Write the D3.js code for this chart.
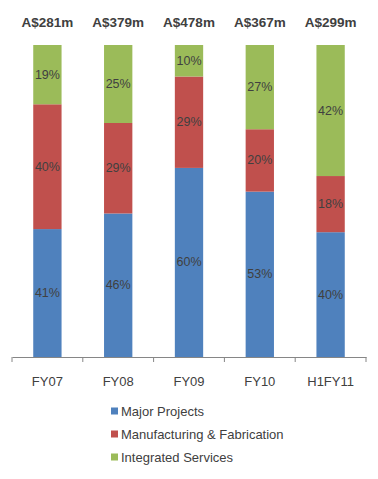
<!DOCTYPE html>
<html>
<head>
<meta charset="utf-8">
<script src="https://cdn.jsdelivr.net/npm/d3@7"></script>
<style>
  body { margin: 0; background: #fff; font-family: "Liberation Sans", Arial, sans-serif; }
</style>
</head>
<body>
<div class="chart"></div>
<script>
var svgWidth = 378;
var svgHeight = 479;

// data
var years = ["FY07", "FY08", "FY09", "FY10", "H1FY11"];
var totals = ["A$281m", "A$379m", "A$478m", "A$367m", "A$299m"];
var majorProjects = [41, 46, 60, 53, 40];
var manufacturing = [40, 29, 29, 20, 18];
var integrated = [19, 25, 10, 27, 42];
var seriesNames = ["Major Projects", "Manufacturing & Fabrication", "Integrated Services"];
var colors = ["#4f81bd", "#c0504d", "#9bbb59"];

var margin = { top: 45, right: 12, bottom: 122, left: 12 };
var width = svgWidth - margin.left - margin.right;
var height = svgHeight - margin.top - margin.bottom;

var svg = d3.select(".chart")
  .append("svg")
  .attr("width", svgWidth)
  .attr("height", svgHeight);

var chartGroup = svg.append("g")
  .attr("transform", `translate(${margin.left}, ${margin.top})`);

var data = years.map(function(y, i) {
  return { year: y, total: totals[i], mp: majorProjects[i], mf: manufacturing[i], is: integrated[i] };
});

var keys = ["mp", "mf", "is"];
var stack = d3.stack().keys(keys).offset(d3.stackOffsetExpand);
var layers = stack(data);

var xScale = d3.scaleBand()
  .domain(years)
  .range([0, width])
  .paddingInner(0.6)
  .paddingOuter(0.3);

var yScale = d3.scaleLinear()
  .domain([0, 1])
  .range([height, 0]);

// bars
layers.forEach(function(layer, li) {
  var g = chartGroup.append("g");
  g.selectAll("rect")
    .data(layer)
    .enter()
    .append("rect")
    .attr("x", d => xScale(d.data.year))
    .attr("y", d => yScale(d[1]))
    .attr("width", xScale.bandwidth())
    .attr("height", d => yScale(d[0]) - yScale(d[1]))
    .attr("fill", colors[li]);

  g.selectAll("text")
    .data(layer)
    .enter()
    .append("text")
    .attr("x", d => xScale(d.data.year) + xScale.bandwidth() / 2)
    .attr("y", d => (yScale(d[0]) + yScale(d[1])) / 2)
    .attr("text-anchor", "middle")
    .attr("dominant-baseline", "central")
    .attr("fill", "#404040")
    .style("font-size", "12.5px")
    .text(d => d.data[keys[li]] + "%");
});

// x axis
var bottomAxis = d3.axisBottom(xScale).tickSize(0).tickPadding(20);
var xAxis = chartGroup.append("g")
  .attr("transform", `translate(0, ${height})`)
  .call(bottomAxis);
xAxis.select(".domain").attr("stroke", "#868686");
xAxis.selectAll("text")
  .attr("fill", "#404040")
  .style("font-size", "13px")
  .style("font-family", "Liberation Sans, Arial, sans-serif");

// tick marks between categories
var edges = d3.range(years.length + 1).map(i => i * width / years.length);
xAxis.selectAll(".sep")
  .data(edges)
  .enter()
  .append("line")
  .attr("x1", d => d)
  .attr("x2", d => d)
  .attr("y1", 0)
  .attr("y2", 5)
  .attr("stroke", "#868686");

// totals
chartGroup.selectAll(".total")
  .data(data)
  .enter()
  .append("text")
  .attr("x", d => xScale(d.year) + xScale.bandwidth() / 2)
  .attr("y", -18)
  .attr("text-anchor", "middle")
  .attr("fill", "#404040")
  .style("font-size", "13.5px")
  .style("font-weight", "bold")
  .text(d => d.total);

// legend
var legend = svg.append("g")
  .attr("transform", "translate(111, 411)");
seriesNames.forEach(function(name, i) {
  var row = legend.append("g").attr("transform", `translate(0, ${i * 23})`);
  row.append("rect")
    .attr("x", 0)
    .attr("y", -3.5)
    .attr("width", 7)
    .attr("height", 7)
    .attr("fill", colors[i]);
  row.append("text")
    .attr("x", 10)
    .attr("y", 0)
    .attr("dominant-baseline", "central")
    .attr("fill", "#404040")
    .style("font-size", "13px")
    .text(name);
});
</script>
</body>
</html>
